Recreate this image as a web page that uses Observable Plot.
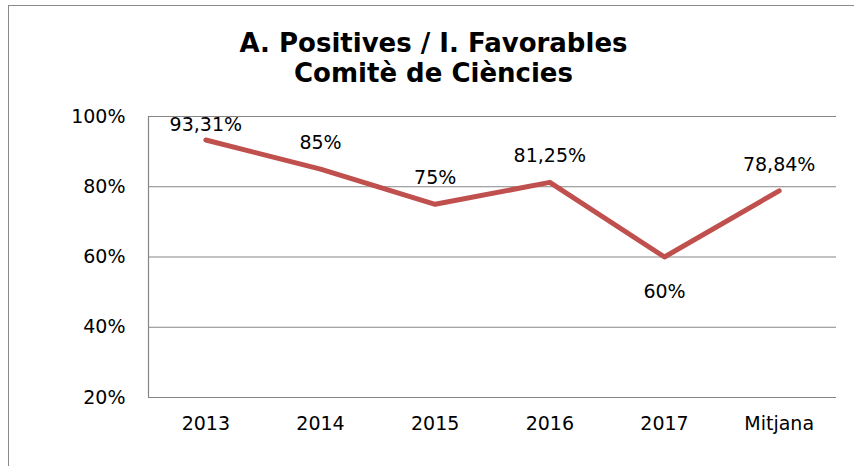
<!DOCTYPE html>
<html>
<head>
<meta charset="utf-8">
<script src="https://cdn.jsdelivr.net/npm/d3@7"></script>
<script src="https://cdn.jsdelivr.net/npm/@observablehq/plot@0.6"></script>
<style>
  html, body { margin: 0; padding: 0; background: #fff; width: 854px; height: 466px; overflow: hidden; }
  body { position: relative; font-family: "DejaVu Sans", Verdana, sans-serif; }
  #border { position: absolute; left: 8px; top: 5px; width: 900px; height: 520px; border: 1px solid #8a8a8a; box-sizing: border-box; }
  #title { position: relative; width: 854px; height: 90px; padding-left: 13px; padding-top: 27.5px; box-sizing: border-box;
           text-align: center; font-weight: bold; font-size: 26px; line-height: 30.5px; color: #000; }
  #chart { position: relative; }
  #chart svg { display: block; }
</style>
</head>
<body>
<div id="border"></div>
<div id="title">A. Positives / I. Favorables<br>Comitè de Ciències</div>
<div id="chart"></div>
<script>
const categories = ["2013", "2014", "2015", "2016", "2017", "Mitjana"];
const values = [93.31, 85, 75, 81.25, 60, 78.84];
const valueLabels = ["93,31%", "85%", "75%", "81,25%", "60%", "78,84%"];
const yTicks = [20, 40, 60, 80, 100];

const data = categories.map((c, i) => ({i, category: c, value: values[i], label: valueLabels[i]}));
const minValue = d3.min(values);

const chart = Plot.plot({
  width: 854,
  height: 376,
  marginTop: 26,
  marginBottom: 69,
  marginLeft: 148,
  marginRight: 18,
  style: {fontFamily: "DejaVu Sans, Verdana, sans-serif", fontSize: "19px", color: "#000", background: "transparent", overflow: "visible"},
  x: {domain: [-0.5, categories.length - 0.5], ticks: categories.length, tickFormat: i => categories[i] ?? "", tickSize: 0, tickPadding: 19, label: null},
  y: {domain: [20, 100], ticks: yTicks.length - 1, tickFormat: d => d + "%", tickSize: 0, tickPadding: 23, label: null},
  marks: [
    Plot.ruleY(yTicks, {stroke: "#868686", strokeWidth: 1.2}),
    Plot.ruleX([-0.5], {y1: 20, y2: 100, stroke: "#868686", strokeWidth: 1.2}),
    Plot.line(data, {x: "i", y: "value", stroke: "#C0504D", strokeWidth: 5, strokeLinejoin: "round", strokeLinecap: "round"}),
    Plot.text(data, {
      x: "i",
      y: d => d.value === minValue ? d.value - 11.7 : Math.min(d.value + 5.7, 95.8),
      text: "label",
      lineAnchor: "bottom",
      fill: "#000",
      fontSize: 19
    })
  ]
});
document.getElementById("chart").appendChild(chart);
</script>
</body>
</html>
